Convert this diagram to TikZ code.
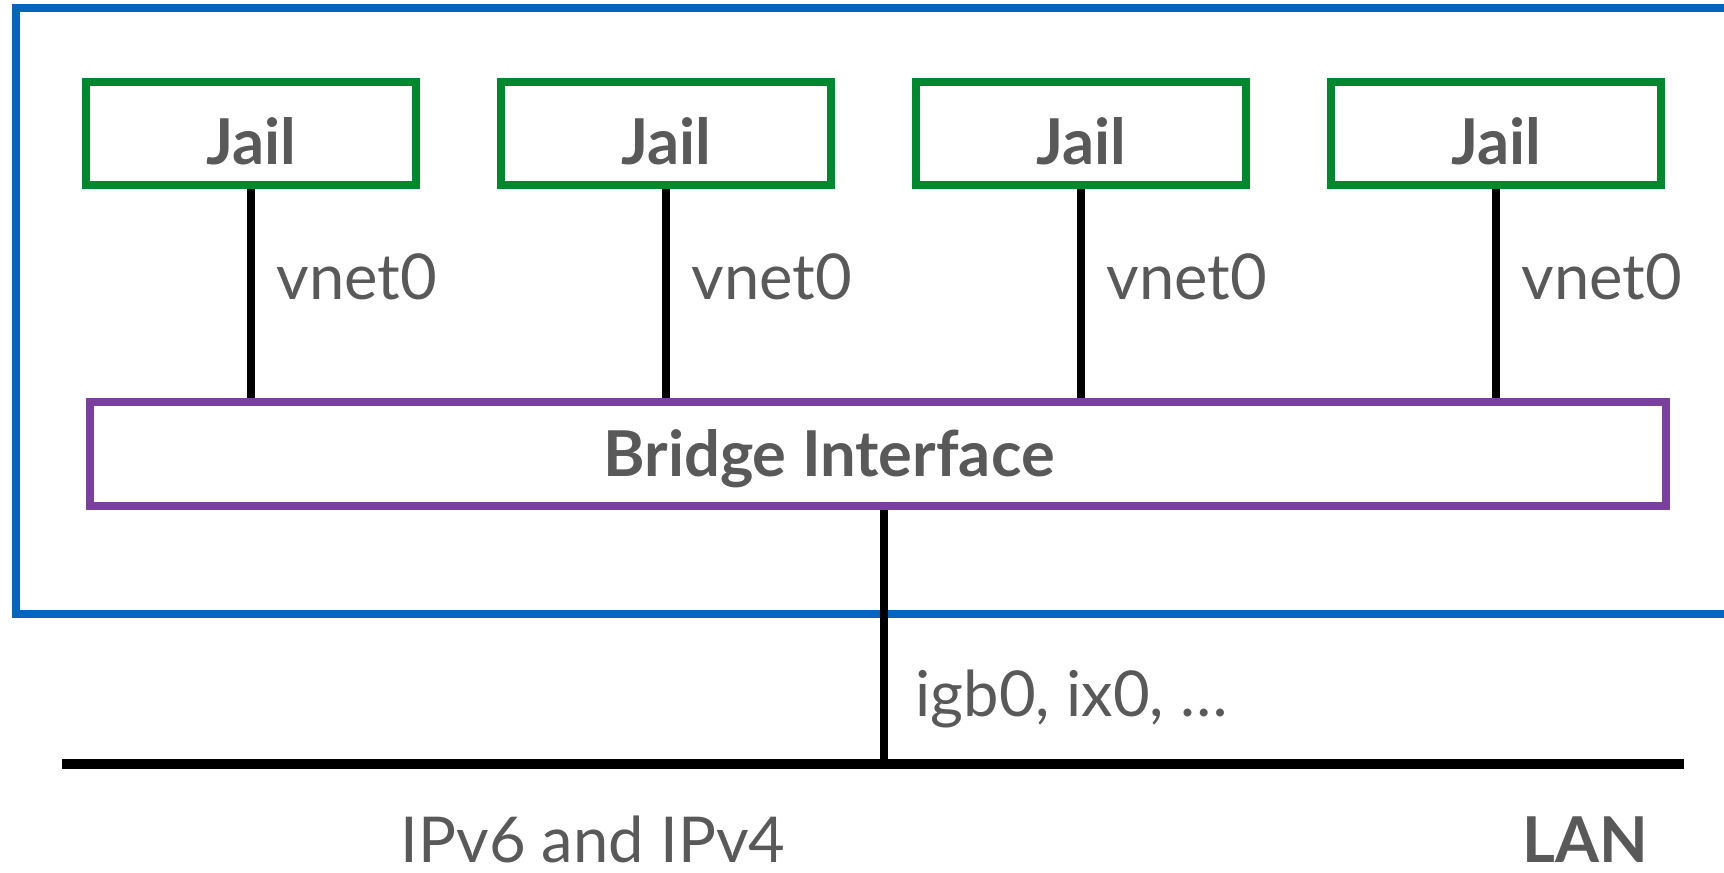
\documentclass[tikz,border=0pt]{standalone}
\usepackage{fontspec}
\setmainfont{Lato}
\usepackage{tikz}
\usetikzlibrary{positioning}
\definecolor{hostblue}{RGB}{5,100,192}
\definecolor{jailgreen}{RGB}{0,136,46}
\definecolor{bridgepurple}{RGB}{122,64,156}
\definecolor{textgray}{RGB}{89,89,89}

\begin{document}
\begin{tikzpicture}[
  jailbox/.style={draw=jailgreen, line width=2.3pt, minimum width=3.3cm, minimum height=1.03cm,
                  inner sep=0pt, text height=0.75cm, text depth=0.12cm,
                  font=\fontsize{18}{22}\selectfont\bfseries, text=textgray},
  bridgebox/.style={draw=bridgepurple, line width=2.3pt, minimum width=15.76cm, minimum height=1.04cm,
                    inner sep=0pt, text height=0.6cm, text depth=0.14cm,
                    font=\fontsize{18}{22}\selectfont\bfseries, text=textgray},
  wire/.style={line width=2.3pt},
  lanwire/.style={line width=2.6pt},
  lbl/.style={font=\fontsize{18}{22}\selectfont, text=textgray, inner sep=0pt, anchor=base west},
  node distance=0.77cm
]
\useasboundingbox (0,0) rectangle (17.24,8.72);
\clip (0,0) rectangle (17.24,8.72);

% host
\draw[hostblue, line width=2.3pt] (0.16,2.58) rectangle (17.6,8.64);

% jails
\node[jailbox] (j1) at (2.51,7.385) {Jail};
\node[jailbox, right=of j1] (j2) {Jail};
\node[jailbox, right=of j2] (j3) {Jail};
\node[jailbox, right=of j3] (j4) {Jail};

\node[bridgebox] (bridge) at (8.78,4.18) {Bridge Interface\hspace*{0.98cm}};

\draw[wire] (j1.south) -- (j1.south |- bridge.north);
\draw[wire] (j2.south) -- (j2.south |- bridge.north);
\draw[wire] (j3.south) -- (j3.south |- bridge.north);
\draw[wire] (j4.south) -- (j4.south |- bridge.north);

\node[lbl] (v1) at (2.76,5.72) {vnet0};
\node[lbl] (v2) at (6.91,5.72) {vnet0};
\node[lbl] (v3) at (11.06,5.72) {vnet0};
\node[lbl] (v4) at (15.21,5.72) {vnet0};

% uplink to the LAN
\coordinate (lanwest) at (0.62,1.08);
\coordinate (laneast) at (16.84,1.08);
\coordinate (uplink) at (8.84,1.08);
\draw[wire] (uplink |- bridge.south) -- (uplink);
\draw[lanwire] (lanwest) -- (laneast);

\node[lbl] (nic) at (9.15,1.55) {igb0, ix0, …};
\node[lbl] (proto) at (4.00,0.1) {IPv6 and IPv4};
\node[lbl, font=\fontsize{18}{22}\selectfont\bfseries] (lan) at (15.22,0.1) {LAN};
\end{tikzpicture}
\end{document}
